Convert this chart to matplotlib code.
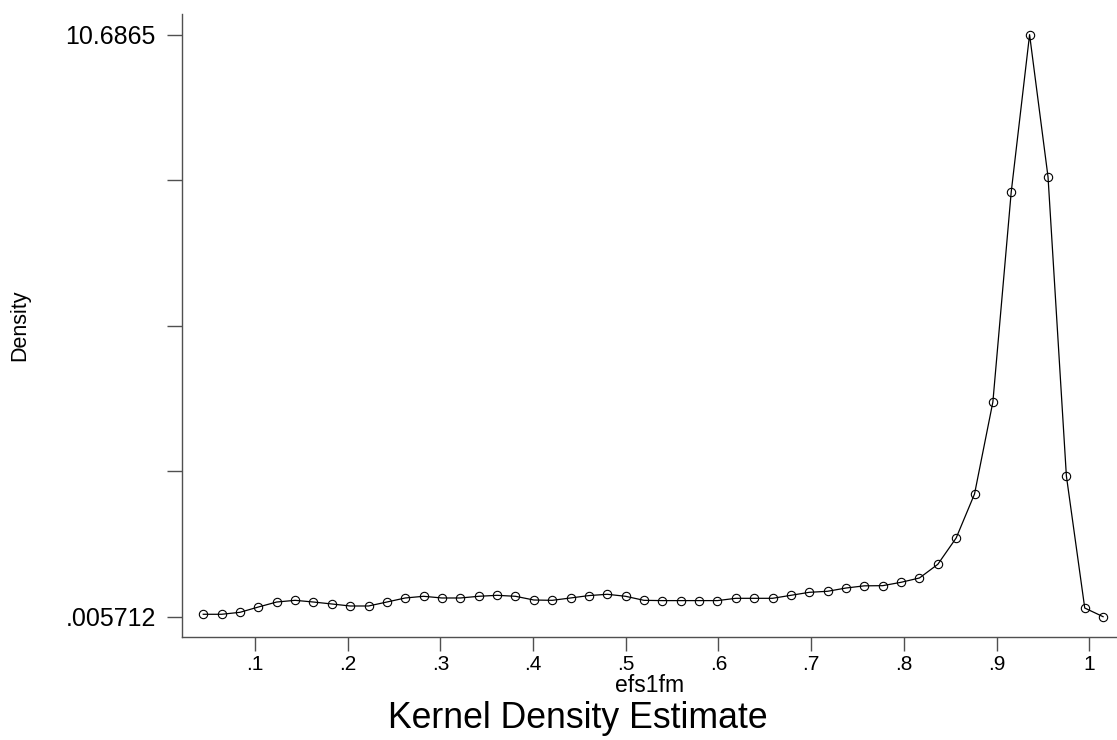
import matplotlib
matplotlib.use("Agg")
import matplotlib.pyplot as plt
import numpy as np

plt.rcParams['font.family'] = ['Liberation Sans', 'DejaVu Sans']

# kernel density of efs1fm, evaluated on 50 grid points
efs1fm = [0.0442, 0.0640, 0.0838, 0.1036, 0.1234, 0.1433, 0.1631, 0.1829, 0.2027, 0.2225,
          0.2423, 0.2621, 0.2819, 0.3017, 0.3215, 0.3414, 0.3612, 0.3810, 0.4008, 0.4206,
          0.4404, 0.4602, 0.4800, 0.4998, 0.5196, 0.5395, 0.5593, 0.5791, 0.5989, 0.6187,
          0.6385, 0.6583, 0.6781, 0.6979, 0.7177, 0.7376, 0.7574, 0.7772, 0.7970, 0.8168,
          0.8366, 0.8564, 0.8762, 0.8960, 0.9158, 0.9356, 0.9555, 0.9753, 0.9951, 1.0149]
density = [0.050, 0.050, 0.086, 0.183, 0.275, 0.306, 0.275, 0.239, 0.202, 0.202,
           0.275, 0.349, 0.380, 0.349, 0.349, 0.380, 0.398, 0.380, 0.312, 0.306,
           0.349, 0.393, 0.417, 0.380, 0.306, 0.301, 0.301, 0.301, 0.301, 0.343,
           0.343, 0.343, 0.398, 0.453, 0.472, 0.532, 0.572, 0.575, 0.637, 0.716,
           0.967, 1.450, 2.257, 3.946, 7.800, 10.6865, 8.075, 2.588, 0.165, 0.005712]

xticks = [0.1, 0.2, 0.3, 0.4, 0.5, 0.6, 0.7, 0.8, 0.9, 1.0]
xticklabels = ['.1', '.2', '.3', '.4', '.5', '.6', '.7', '.8', '.9', '1']
ymin, ymax = min(density), max(density)
yticklabels = ['.005712', '', '', '', '10.6865']

fig = plt.figure(figsize=(11.17, 7.40), dpi=100)
ax = fig.add_axes([0.1629, 0.1392, 0.8371, 0.8419])

ax.plot(efs1fm, density, color='black', lw=0.9, marker='o', ms=6,
        mfc='none', mec='black', mew=0.8)

ax.set_xlim(0.02125, 1.0299)
ax.set_ylim(-0.3668, 11.066)

ax.set_xticks(xticks)
ax.set_xticklabels(xticklabels, fontsize=15)
ax.set_yticks(np.linspace(ymin, ymax, 5))
ax.set_yticklabels(yticklabels, fontsize=18)

for s in ['top', 'right']:
    ax.spines[s].set_visible(False)
for s in ['left', 'bottom']:
    ax.spines[s].set_color('#505050')
    ax.spines[s].set_linewidth(1.0)
ax.tick_params(axis='y', direction='out', length=10.8, width=1.0, color='#505050', pad=8)
ax.tick_params(axis='x', direction='out', length=10, width=1.0, color='#505050', pad=3)

ax.set_xlabel('efs1fm', fontsize=16.5, labelpad=0)
ax.set_ylabel('Density', fontsize=15.5, labelpad=0)
ax.yaxis.set_label_coords(-0.1626, 0.5)

fig.text(0.5175, 0.016, 'Kernel Density Estimate', fontsize=25.7, ha='center', va='baseline')

fig.savefig('out.png', dpi=100, facecolor='white')
